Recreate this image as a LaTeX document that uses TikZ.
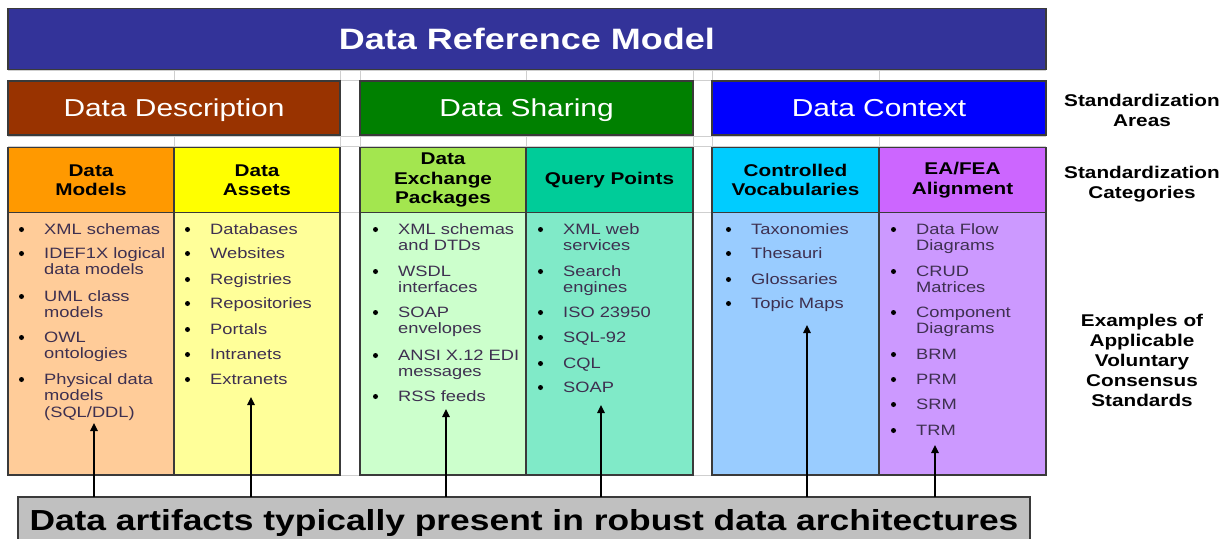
\documentclass[tikz,border=0pt]{standalone}
\usepackage{fontspec}
\setmainfont{Liberation Sans}[FakeStretch=1.22]
\usetikzlibrary{arrows.meta}

\definecolor{bannerc}{HTML}{333399}
\definecolor{descc}{HTML}{993300}
\definecolor{sharec}{HTML}{008000}
\definecolor{ctxc}{HTML}{0000FF}
\definecolor{dmhead}{HTML}{FF9900}
\definecolor{dahead}{HTML}{FFFF00}
\definecolor{dephead}{HTML}{A3E64F}
\definecolor{qphead}{HTML}{00CC99}
\definecolor{cvhead}{HTML}{00CCFF}
\definecolor{eahead}{HTML}{CC66FF}
\definecolor{dmbody}{HTML}{FFCC99}
\definecolor{dabody}{HTML}{FFFF99}
\definecolor{depbody}{HTML}{CCFFCC}
\definecolor{qpbody}{HTML}{80EAC8}
\definecolor{cvbody}{HTML}{99CCFF}
\definecolor{eabody}{HTML}{CC99FF}
\definecolor{notec}{HTML}{C0C0C0}
\definecolor{boxline}{HTML}{3A3A3A}
\definecolor{itemtext}{HTML}{3E3050}
\definecolor{gridc}{HTML}{CFCFCF}

% one bulleted entry: name, x, first baseline y, text
\newcommand\dritem[4]{%
  \node[itm] (#1) at (#2,#3) {\parbox[t]{140pt}{\raggedright #4}};
  \fill[black] ([xshift=-22.5pt,yshift=4.5pt]#1.base west) circle (2.5pt);
}

\begin{document}
\begin{tikzpicture}[x=1pt,y=-1pt,
  grid/.style={draw=gridc, line width=0.8pt},
  box/.style={draw=boxline, line width=1.3pt, inner sep=0pt, outer sep=0pt},
  banner/.style={box, fill=bannerc, text=white, text height=21pt, text depth=0pt,
                 font=\bfseries\fontsize{29.5}{32}\selectfont},
  area/.style={box, text=white, minimum height=54pt, text height=17.5pt, text depth=0pt,
               font=\fontsize{24.5}{28}\selectfont},
  cathead/.style={box, align=center, minimum height=65pt, font=\bfseries\fontsize{17}{19.5}\selectfont},
  body/.style={box, minimum height=263pt},
  itm/.style={anchor=base west, inner sep=0pt, text=itemtext, font=\fontsize{15}{16.8}\selectfont},
  side/.style={align=center, inner sep=0pt, font=\bfseries\fontsize{17}{20}\selectfont},
  note/.style={box, fill=notec, anchor=north west, minimum width=1012pt, minimum height=51pt,
               font=\bfseries\fontsize{29}{32}\selectfont},
  arr/.style={line width=1.3pt, -{Triangle[length=8pt,width=7.5pt]}}]

\useasboundingbox (0,0) rectangle (1230,538);
\clip (0,0) rectangle (1230,538);

% spreadsheet grid behind the blocks
\foreach \yy in {70,80,136,146,212,475} \draw[grid] (8,\yy) -- (1046,\yy);
\foreach \xx in {174,340,360,526,693,712,879} \draw[grid] (\xx,70) -- (\xx,475);

% title bar
\node[banner, minimum width=1038pt, minimum height=61pt] (drm) at (527,39) {Data Reference Model};

% standardization areas
\node[area, fill=descc,  minimum width=332pt] (desc)  at (174,108)   {Data Description};
\node[area, fill=sharec, minimum width=333pt] (share) at (526.5,108) {Data Sharing};
\node[area, fill=ctxc,   minimum width=334pt] (ctx)   at (879,108)   {Data Context};

% example bodies
\node[body, fill=dmbody,  minimum width=166pt] (dmb)  at (91,343.5)    {};
\node[body, fill=dabody,  minimum width=166pt] (dab)  at (257,343.5)   {};
\node[body, fill=depbody, minimum width=166pt] (depb) at (443,343.5)   {};
\node[body, fill=qpbody,  minimum width=167pt] (qpb)  at (609.5,343.5) {};
\node[body, fill=cvbody,  minimum width=167pt] (cvb)  at (795.5,343.5) {};
\node[body, fill=eabody,  minimum width=167pt] (eab)  at (962.5,343.5) {};

% standardization categories
\node[cathead, fill=dmhead,  minimum width=166pt] (dmh)  at (91,180)    {Data\\Models};
\node[cathead, fill=dahead,  minimum width=166pt] (dah)  at (257,180)   {Data\\Assets};
\node[cathead, fill=dephead, minimum width=166pt] (deph) at (443,180)   {Data\\Exchange\\Packages};
\node[cathead, fill=qphead,  minimum width=167pt] (qph)  at (609.5,180) {Query Points};
\node[cathead, fill=cvhead,  minimum width=167pt] (cvh)  at (795.5,180) {Controlled\\Vocabularies};
\node[cathead, fill=eahead,  minimum width=167pt] (eah)  at (962.5,180) {EA/FEA\\Alignment};

% Data Models
\dritem{dm1}{44}{234}{XML schemas}
\dritem{dm2}{44}{258}{IDEF1X logical\\data models}
\dritem{dm3}{44}{301}{UML class\\models}
\dritem{dm4}{44}{342}{OWL\\ontologies}
\dritem{dm5}{44}{384}{Physical data\\models\\(SQL/DDL)}

% Data Assets
\dritem{da1}{210}{234}{Databases}
\dritem{da2}{210}{258}{Websites}
\dritem{da3}{210}{284}{Registries}
\dritem{da4}{210}{308}{Repositories}
\dritem{da5}{210}{334}{Portals}
\dritem{da6}{210}{359}{Intranets}
\dritem{da7}{210}{384}{Extranets}

% Data Exchange Packages
\dritem{de1}{398}{234}{XML schemas\\and DTDs}
\dritem{de2}{398}{276}{WSDL\\interfaces}
\dritem{de3}{398}{317}{SOAP\\envelopes}
\dritem{de4}{398}{360}{ANSI X.12 EDI\\messages}
\dritem{de5}{398}{401}{RSS feeds}

% Query Points
\dritem{qp1}{563}{234}{XML web\\services}
\dritem{qp2}{563}{276}{Search\\engines}
\dritem{qp3}{563}{317}{ISO 23950}
\dritem{qp4}{563}{342}{SQL-92}
\dritem{qp5}{563}{368}{CQL}
\dritem{qp6}{563}{392}{SOAP}

% Controlled Vocabularies
\dritem{cv1}{751}{234}{Taxonomies}
\dritem{cv2}{751}{258}{Thesauri}
\dritem{cv3}{751}{284}{Glossaries}
\dritem{cv4}{751}{308}{Topic Maps}

% EA/FEA Alignment
\dritem{ea1}{916}{234}{Data Flow\\Diagrams}
\dritem{ea2}{916}{276}{CRUD\\Matrices}
\dritem{ea3}{916}{317}{Component\\Diagrams}
\dritem{ea4}{916}{359}{BRM}
\dritem{ea5}{916}{384}{PRM}
\dritem{ea6}{916}{409}{SRM}
\dritem{ea7}{916}{435}{TRM}

% row captions
\node[side] (sareas) at (1142,110) {Standardization\\Areas};
\node[side] (scats)  at (1142,184) {Standardization\\Categories};
\node[side] (vcs)    at (1142,360) {Examples of\\Applicable\\Voluntary\\Consensus\\Standards};

% caption bar
\node[note] (art) at (18,497) {Data artifacts typically present in robust data architectures};

% pointers up into the columns
\coordinate (tdm)  at (94,423);
\coordinate (tda)  at (251,397);
\coordinate (tde)  at (446,409);
\coordinate (tqp)  at (601,405);
\coordinate (tcv)  at (807,325);
\coordinate (tea)  at (935,445);
\foreach \t in {tdm,tda,tde,tqp,tcv,tea}
  \draw[arr] (art.north -| \t) -- (\t);

\end{tikzpicture}
\end{document}
